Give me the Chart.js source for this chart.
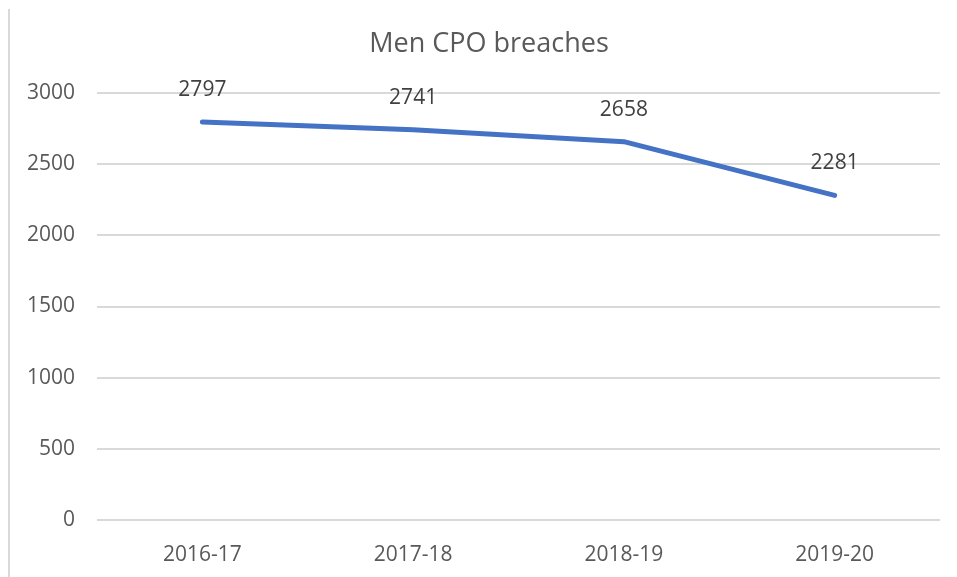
<!DOCTYPE html>
<html>
<head>
<meta charset="utf-8">
<script src="https://cdn.jsdelivr.net/npm/chart.js@4/dist/chart.umd.min.js"></script>
<style>
  html, body { margin: 0; padding: 0; background: #fff; }
  #wrap { width: 957px; height: 577px; }
</style>
</head>
<body>
<div id="wrap"><canvas id="cpoChart" width="957" height="577"></canvas></div>
<script>
// Men CPO breaches, by financial year
const years = ['2016-17', '2017-18', '2018-19', '2019-20'];
const breaches = [2797, 2741, 2658, 2281];
const yTicks = [0, 500, 1000, 1500, 2000, 2500, 3000];
const chartTitle = 'Men CPO breaches';

const FONT = "'Open Sans', sans-serif";

// outer frame line on the left + title centred a little right of the canvas middle
const frameAndTitle = {
  id: 'frameAndTitle',
  beforeDraw(chart) {
    const c = chart.ctx;
    c.save();
    c.fillStyle = '#fff';
    c.fillRect(0, 0, chart.width, chart.height);
    c.strokeStyle = '#d9d9d9';
    c.lineWidth = 2;
    c.beginPath();
    c.moveTo(9, 9);
    c.lineTo(9, chart.height);
    c.stroke();
    c.font = '27px ' + FONT;
    c.fillStyle = '#595959';
    c.textAlign = 'center';
    c.textBaseline = 'middle';
    c.fillText(chartTitle, 489, 44);
    c.restore();
  }
};

// value labels above each point
const valueLabels = {
  id: 'valueLabels',
  afterDatasetsDraw(chart) {
    const c = chart.ctx;
    const meta = chart.getDatasetMeta(0);
    c.save();
    c.font = '21px ' + FONT;
    c.fillStyle = '#404040';
    c.textAlign = 'center';
    c.textBaseline = 'middle';
    meta.data.forEach((pt, i) => {
      c.fillText(String(breaches[i]), pt.x, pt.y - 32);
    });
    c.restore();
  }
};

new Chart(document.getElementById('cpoChart'), {
  type: 'line',
  data: {
    labels: years,
    datasets: [{
      data: breaches,
      borderColor: '#4472C4',
      borderWidth: 5,
      borderCapStyle: 'round',
      borderJoinStyle: 'round',
      pointRadius: 0,
      tension: 0,
      fill: false
    }]
  },
  options: {
    responsive: false,
    animation: false,
    layout: { padding: { left: 0, right: 17, top: 93, bottom: 0 } },
    plugins: {
      legend: { display: false },
      tooltip: { enabled: false },
      title: { display: false }
    },
    scales: {
      x: {
        offset: true,
        grid: { display: false },
        border: { display: false },
        ticks: { color: '#595959', font: { family: FONT, size: 21 }, padding: 14 },
        afterFit(s) { s.height = 57; }
      },
      y: {
        min: 0,
        max: 3000,
        afterBuildTicks(s) { s.ticks = yTicks.map(v => ({ value: v })); },
        grid: { color: '#d9d9d9', lineWidth: 2, drawTicks: false },
        border: { display: false },
        ticks: { color: '#595959', font: { family: FONT, size: 21 }, padding: 22, callback: v => String(v) },
        afterFit(s) { s.width = 97; }
      }
    }
  },
  plugins: [frameAndTitle, valueLabels]
});
</script>
</body>
</html>
